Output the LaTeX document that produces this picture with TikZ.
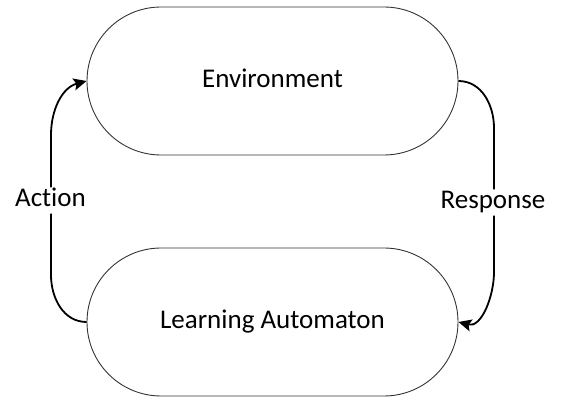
\documentclass[tikz,border=0pt]{standalone}
\usepackage{fontspec}
\setmainfont{Carlito}[Ligatures=NoCommon]
\usetikzlibrary{arrows.meta}
\begin{document}
\begin{tikzpicture}[x=1pt,y=-1pt,
  txt/.style={font=\fontsize{27}{31}\selectfont,text height=18.5pt,text depth=5.5pt},
  blob/.style={txt,draw=black!80,line width=0.9pt,rectangle,rounded corners=74pt,
    minimum width=371pt,minimum height=148pt,inner sep=0pt},
  lbl/.style={txt,inner sep=1pt},
  conn/.style={line width=1.8pt,black},
  tip/.style={-{Stealth[length=13pt,width=12pt,inset=2.5pt]}}]
\useasboundingbox (0,0) rectangle (563,398);
\node[blob] (env) at (272.5,81) {Environment};
\node[blob] (la) at (272.5,322) {Learning Automaton};
\node[lbl] (action) at (50.5,200.5) {Action};
\node[lbl] (resp) at (493,202.5) {Response};
\coordinate (a1) at (51,275);
\coordinate (a2) at (51,135);
\coordinate (r1) at (494,128);
\coordinate (r2) at (494,272);
\draw[conn] (la.west) to[out=180,in=-90] (a1) -- (a1 |- action.south);
\draw[conn,tip] (a1 |- action.north) -- (a2) to[out=90,in=195] (env.west);
\draw[conn] (env.east) to[out=0,in=90] (r1) -- (r1 |- resp.north);
\draw[conn,tip] (r1 |- resp.south) -- (r2) to[out=-90,in=-15] (la.east);
\end{tikzpicture}
\end{document}
